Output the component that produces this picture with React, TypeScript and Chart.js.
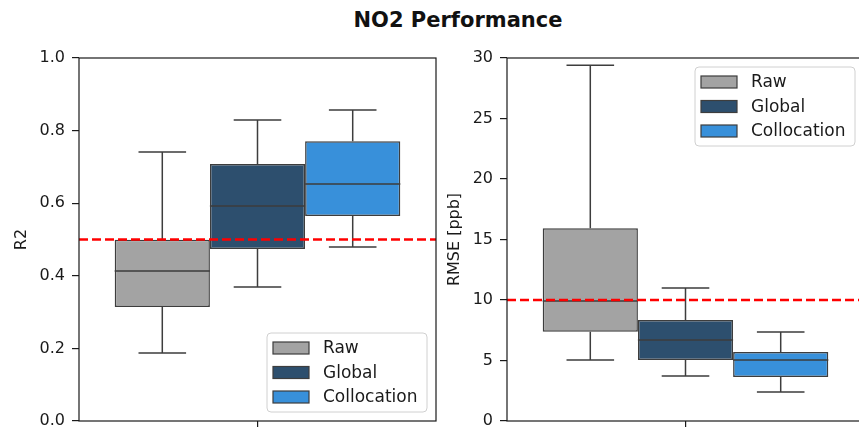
import React, { useEffect, useRef } from 'react';
import { Chart, registerables } from 'chart.js';

Chart.register(...registerables);

// ---------- data ----------
const figureTitle = 'NO2 Performance';
const xCategories = ['NO2'];
const seriesNames = ['Raw', 'Global', 'Collocation'];
const seriesColors = ['#a3a3a3', '#2d4f6e', '#3890da'];

// box statistics: [lower whisker, Q1, median, Q3, upper whisker]
const r2Raw = [0.187, 0.314, 0.413, 0.499, 0.741];
const r2Global = [0.369, 0.474, 0.592, 0.708, 0.829];
const r2Collocation = [0.479, 0.565, 0.653, 0.771, 0.857];

const rmseRaw = [5.04, 7.38, 9.92, 15.93, 29.4];
const rmseGlobal = [3.72, 5.04, 6.69, 8.35, 10.99];
const rmseCollocation = [2.4, 3.64, 5.04, 5.7, 7.36];

const r2TickValues = [0, 0.2, 0.4, 0.6, 0.8, 1.0];
const r2TickLabels = ['0.0', '0.2', '0.4', '0.6', '0.8', '1.0'];
const rmseTickValues = [0, 5, 10, 15, 20, 25, 30];
const rmseTickLabels = ['0', '5', '10', '15', '20', '25', '30'];

const r2Threshold = 0.5;
const rmseThreshold = 10;

const r2Label = 'R2';
const rmseLabel = 'RMSE [ppb]';

// ---------- style ----------
const EDGE = '#3d3d3d';
const AXIS = '#1a1a1a';
const FONT = '"DejaVu Sans", "Liberation Sans", sans-serif';

const boxPlugin = {
  id: 'boxExtras',
  afterDatasetsDraw(chart: any, _args: any, opts: any) {
    const { ctx, chartArea: a } = chart;
    const ys = chart.scales.y;
    ctx.save();
    ctx.strokeStyle = EDGE;
    ctx.lineWidth = 1.5;
    chart.data.datasets.forEach((ds: any, i: number) => {
      const meta = chart.getDatasetMeta(i);
      meta.data.forEach((bar: any) => {
        const s = ds.stats as number[];
        const { x, width } = bar.getProps(['x', 'width'], true);
        const yLo = ys.getPixelForValue(s[0]);
        const yQ1 = ys.getPixelForValue(s[1]);
        const yMed = ys.getPixelForValue(s[2]);
        const yQ3 = ys.getPixelForValue(s[3]);
        const yHi = ys.getPixelForValue(s[4]);
        const cap = width / 4;
        ctx.beginPath();
        ctx.moveTo(x, yQ3);
        ctx.lineTo(x, yHi);
        ctx.moveTo(x - cap, yHi);
        ctx.lineTo(x + cap, yHi);
        ctx.moveTo(x, yQ1);
        ctx.lineTo(x, yLo);
        ctx.moveTo(x - cap, yLo);
        ctx.lineTo(x + cap, yLo);
        ctx.moveTo(x - width / 2, yMed);
        ctx.lineTo(x + width / 2, yMed);
        ctx.stroke();
      });
    });
    // threshold line
    const yt = ys.getPixelForValue(opts.threshold);
    ctx.strokeStyle = '#ff0000';
    ctx.lineWidth = 2.4;
    ctx.setLineDash([9, 4]);
    ctx.beginPath();
    ctx.moveTo(a.left, yt);
    ctx.lineTo(a.right, yt);
    ctx.stroke();
    ctx.restore();
  },
  afterDraw(chart: any, _args: any, opts: any) {
    const { ctx, chartArea: a } = chart;
    ctx.save();
    // frame
    ctx.strokeStyle = AXIS;
    ctx.lineWidth = 1.2;
    ctx.strokeRect(a.left, a.top, a.right - a.left, a.bottom - a.top);
    // legend
    const W = 160, H = 79, m = 9, r = 4;
    const x0 = a.right - m - W;
    const y0 = opts.corner === 'upper right' ? a.top + m : a.bottom - m - H;
    ctx.beginPath();
    ctx.moveTo(x0 + r, y0);
    ctx.lineTo(x0 + W - r, y0);
    ctx.arcTo(x0 + W, y0, x0 + W, y0 + r, r);
    ctx.lineTo(x0 + W, y0 + H - r);
    ctx.arcTo(x0 + W, y0 + H, x0 + W - r, y0 + H, r);
    ctx.lineTo(x0 + r, y0 + H);
    ctx.arcTo(x0, y0 + H, x0, y0 + H - r, r);
    ctx.lineTo(x0, y0 + r);
    ctx.arcTo(x0, y0, x0 + r, y0, r);
    ctx.closePath();
    ctx.fillStyle = 'rgba(255,255,255,0.8)';
    ctx.fill();
    ctx.strokeStyle = '#d0d0d0';
    ctx.lineWidth = 1;
    ctx.stroke();
    chart.data.datasets.forEach((ds: any, i: number) => {
      const cy = y0 + 15 + i * 24.5;
      ctx.fillStyle = ds.backgroundColor;
      ctx.fillRect(x0 + 6, cy - 6, 36, 12);
      ctx.strokeStyle = EDGE;
      ctx.lineWidth = 1.2;
      ctx.strokeRect(x0 + 6, cy - 6, 36, 12);
      ctx.fillStyle = AXIS;
      ctx.font = `17px ${FONT}`;
      ctx.textBaseline = 'middle';
      ctx.textAlign = 'left';
      ctx.fillText(ds.label, x0 + 56, cy + 1);
    });
    ctx.restore();
  },
};

function makeConfig(p: {
  stats: number[][];
  tickValues: number[];
  tickLabels: string[];
  yMax: number;
  yLabel: string;
  threshold: number;
  corner: string;
  axisWidth: number;
  titlePad: number;
  padRight: number;
}) {
  return {
    type: 'bar' as const,
    data: {
      labels: xCategories,
      datasets: seriesNames.map((name, i) => ({
        label: name,
        data: [[p.stats[i][1], p.stats[i][3]]],
        stats: p.stats[i],
        backgroundColor: seriesColors[i],
        borderColor: EDGE,
        borderWidth: 1.5,
        borderSkipped: false,
        categoryPercentage: 0.8,
        barPercentage: 1.0,
      })),
    },
    options: {
      responsive: false,
      animation: false,
      devicePixelRatio: 1,
      layout: { padding: { left: 0, top: 58, right: p.padRight, bottom: 1 } },
      plugins: {
        legend: { display: false },
        tooltip: { enabled: false },
        title: { display: false },
        boxExtras: { threshold: p.threshold, corner: p.corner },
      },
      scales: {
        x: {
          type: 'category',
          offset: true,
          grid: {
            display: true,
            drawOnChartArea: false,
            drawTicks: true,
            tickLength: 7,
            offset: false,
            color: AXIS,
            lineWidth: 1.2,
          },
          border: { display: false },
          ticks: { display: false },
          afterFit: (s: any) => {
            s.height = 18;
          },
        },
        y: {
          type: 'linear',
          min: 0,
          max: p.yMax,
          afterBuildTicks: (s: any) => {
            s.ticks = p.tickValues.map((v) => ({ value: v }));
          },
          afterFit: (s: any) => {
            s.width = p.axisWidth;
          },
          grid: {
            display: true,
            drawOnChartArea: false,
            drawTicks: true,
            tickLength: 7,
            color: AXIS,
            lineWidth: 1.2,
          },
          border: { display: false },
          ticks: {
            padding: 7,
            color: AXIS,
            font: { family: FONT, size: 16 },
            callback: (_v: any, i: number) => p.tickLabels[i],
          },
          title: {
            display: true,
            text: p.yLabel,
            color: AXIS,
            font: { family: FONT, size: 16 },
            padding: { top: p.titlePad, bottom: 0 },
          },
        },
      },
    },
    plugins: [boxPlugin],
  };
}

export default function App() {
  const leftRef = useRef<HTMLCanvasElement>(null);
  const rightRef = useRef<HTMLCanvasElement>(null);

  useEffect(() => {
    const left = new Chart(
      leftRef.current as HTMLCanvasElement,
      makeConfig({
        stats: [r2Raw, r2Global, r2Collocation],
        tickValues: r2TickValues,
        tickLabels: r2TickLabels,
        yMax: 1,
        yLabel: r2Label,
        threshold: r2Threshold,
        corner: 'lower right',
        axisWidth: 79,
        titlePad: 12,
        padRight: 4,
      }) as any
    );
    const right = new Chart(
      rightRef.current as HTMLCanvasElement,
      makeConfig({
        stats: [rmseRaw, rmseGlobal, rmseCollocation],
        tickValues: rmseTickValues,
        tickLabels: rmseTickLabels,
        yMax: 30,
        yLabel: rmseLabel,
        threshold: rmseThreshold,
        corner: 'upper right',
        axisWidth: 77,
        titlePad: 15,
        padRight: 16,
      }) as any
    );
    return () => {
      left.destroy();
      right.destroy();
    };
  }, []);

  return (
    <div
      style={{
        position: 'fixed',
        left: 0,
        top: 0,
        width: 859,
        height: 427,
        overflow: 'hidden',
        background: '#ffffff',
      }}
    >
      <div
        style={{
          position: 'absolute',
          left: 258,
          width: 400,
          top: 8,
          textAlign: 'center',
          font: `bold 21px ${FONT}`,
          lineHeight: '24px',
          color: '#111',
          whiteSpace: 'nowrap',
        }}
      >
        {figureTitle}
      </div>
      <canvas
        ref={leftRef}
        width={440}
        height={440}
        style={{ position: 'absolute', left: 0, top: 0 }}
      />
      <canvas
        ref={rightRef}
        width={450}
        height={440}
        style={{ position: 'absolute', left: 430, top: 0 }}
      />
    </div>
  );
}
